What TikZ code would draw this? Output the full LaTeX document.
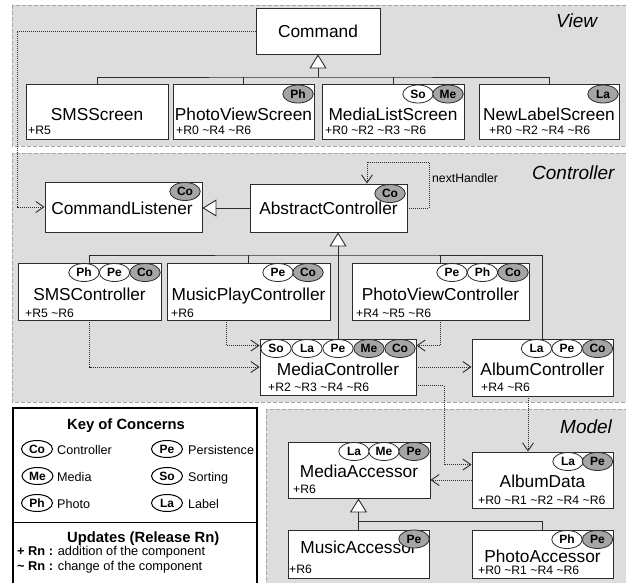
\documentclass[tikz,border=0pt]{standalone}
\usepackage{fontspec}
\setmainfont{Liberation Sans}
\usetikzlibrary{shapes.geometric,arrows.meta,calc}
\definecolor{panelfill}{HTML}{DDDDDD}
\definecolor{dashcol}{HTML}{A6A6A6}
\definecolor{congray}{HTML}{A5A5A5}
\definecolor{linecol}{HTML}{2B2B2B}
\begin{document}
\begin{tikzpicture}[x=1pt,y=-1pt,
  panel/.style={fill=panelfill, draw=dashcol, line width=0.8pt, dash pattern=on 4pt off 2pt},
  cls/.style={draw=linecol, fill=white, line width=0.9pt, rectangle, inner sep=0pt},
  ttl/.style={anchor=base, inner sep=0pt, font=\fontsize{17.3}{20}\selectfont},
  rel/.style={anchor=base west, inner sep=0pt, font=\fontsize{12.2}{14}\selectfont},
  cbase/.style={ellipse, draw=linecol, line width=0.8pt, minimum width=30.5pt, minimum height=18pt, inner sep=0pt, font=\bfseries\fontsize{12}{14}\selectfont},
  cw/.style={cbase, fill=white},
  cg/.style={cbase, fill=congray},
  ck/.style={ellipse, draw=black, line width=1pt, fill=white, minimum width=31pt, minimum height=17pt, inner sep=0pt, font=\bfseries\fontsize{12}{14}\selectfont},
  klabel/.style={anchor=base west, inner sep=0pt, font=\fontsize{12.6}{15}\selectfont},
  ulabel/.style={anchor=base west, inner sep=0pt, font=\fontsize{12.8}{15}\selectfont},
  ktitle/.style={anchor=base west, inner sep=0pt, font=\bfseries\fontsize{14.8}{17}\selectfont},
  area/.style={anchor=base west, inner sep=0pt, font=\itshape\fontsize{19}{22}\selectfont},
  inh/.style={draw=linecol, line width=0.9pt},
  inharrow/.style={inh, -{Triangle[length=14pt,width=17pt,fill=white]}},
  dep/.style={draw=linecol, line width=0.9pt, dash pattern=on 1pt off 1pt, -{Straight Barb[length=8pt,width=11pt]}}
]
\useasboundingbox (0,0) rectangle (626,583);

% panels
\draw[panel] (12,5) rectangle (640,146);
\draw[panel] (12,153) rectangle (640,402);
\draw[panel] (266,409) rectangle (640,600);
\draw[line width=2pt, fill=white] (13,408) rectangle (257,600);
\draw[line width=1pt] (13,522.5) -- (257,522.5);

% area labels
\node[area] (viewlbl) at (556,28) {View};
\node[area] (ctrllbl) at (532,179) {Controller};
\node[area] (modellbl) at (560,433) {Model};

% class boxes
\node[cls, minimum width=124pt, minimum height=46pt] (command) at (318,31) {};
\node[cls, minimum width=142pt, minimum height=55pt] (smsscreen) at (97,111.5) {};
\node[cls, minimum width=141pt, minimum height=55pt] (photoviewscreen) at (243.5,111.5) {};
\node[cls, minimum width=142pt, minimum height=55pt] (medialistscreen) at (393,111.5) {};
\node[cls, minimum width=140pt, minimum height=55pt] (newlabelscreen) at (549,111.5) {};

\node[cls, minimum width=157pt, minimum height=50pt] (commandlistener) at (123.5,207) {};
\node[cls, minimum width=157pt, minimum height=48pt] (abstractcontroller) at (328.5,208) {};
\node[cls, minimum width=143pt, minimum height=57pt] (smscontroller) at (89.5,291.5) {};
\node[cls, minimum width=163pt, minimum height=57pt] (musicplaycontroller) at (248.5,291.5) {};
\node[cls, minimum width=177pt, minimum height=57pt] (photoviewcontroller) at (440.5,291.5) {};
\node[cls, minimum width=156pt, minimum height=56pt] (mediacontroller) at (338,367) {};
\node[cls, minimum width=141pt, minimum height=57pt] (albumcontroller) at (542.5,367.5) {};

\node[cls, minimum width=142pt, minimum height=56pt] (mediaaccessor) at (359,470) {};
\node[cls, minimum width=141pt, minimum height=56pt] (albumdata) at (542.5,480) {};
\node[cls, minimum width=141pt, minimum height=48pt] (musicaccessor) at (358.5,554) {};
\node[cls, minimum width=141pt, minimum height=48pt] (photoaccessor) at (542.5,554) {};

% titles
\node[ttl] (command-t) at (318,38) {Command};
\node[ttl] (smsscreen-t) at (97,121) {SMSScreen};
\node[ttl] (photoviewscreen-t) at (243.5,121) {PhotoViewScreen};
\node[ttl] (medialistscreen-t) at (393,121) {MediaListScreen};
\node[ttl] (newlabelscreen-t) at (549,121) {NewLabelScreen};
\node[ttl] (commandlistener-t) at (122,214) {CommandListener};
\node[ttl] (abstractcontroller-t) at (328.5,214) {AbstractController};
\node[ttl] (smscontroller-t) at (89.5,300) {SMSController};
\node[ttl] (musicplaycontroller-t) at (248.5,300) {MusicPlayController};
\node[ttl] (photoviewcontroller-t) at (440.5,300) {PhotoViewController};
\node[ttl] (mediacontroller-t) at (338,375) {MediaController};
\node[ttl] (albumcontroller-t) at (542.5,375) {AlbumController};
\node[ttl] (mediaaccessor-t) at (359,477) {MediaAccessor};
\node[ttl] (albumdata-t) at (542.5,487) {AlbumData};
\node[ttl] (musicaccessor-t) at (358.5,553.5) {MusicAccessor};
\node[ttl] (photoaccessor-t) at (542.5,562) {PhotoAccessor};

% releases
\node[rel] (smsscreen-r) at (28,135) {+R5};
\node[rel] (photoviewscreen-r) at (176,135) {+R0 \textasciitilde R4 \textasciitilde R6};
\node[rel] (medialistscreen-r) at (325,135) {+R0 \textasciitilde R2 \textasciitilde R3 \textasciitilde R6};
\node[rel] (newlabelscreen-r) at (489,135) {+R0 \textasciitilde R2 \textasciitilde R4 \textasciitilde R6};
\node[rel] (smscontroller-r) at (25,317) {+R5 \textasciitilde R6};
\node[rel] (musicplaycontroller-r) at (171,317) {+R6};
\node[rel] (photoviewcontroller-r) at (356,317) {+R4 \textasciitilde R5 \textasciitilde R6};
\node[rel] (mediacontroller-r) at (268,391) {+R2 \textasciitilde R3 \textasciitilde R4 \textasciitilde R6};
\node[rel] (albumcontroller-r) at (481,391) {+R4 \textasciitilde R6};
\node[rel] (mediaaccessor-r) at (293,493) {+R6};
\node[rel] (albumdata-r) at (478,504) {+R0 \textasciitilde R1 \textasciitilde R2 \textasciitilde R4 \textasciitilde R6};
\node[rel] (musicaccessor-r) at (289,573) {+R6};
\node[rel] (photoaccessor-r) at (478,574) {+R0 \textasciitilde R1 \textasciitilde R4 \textasciitilde R6};

% concerns
\node[cg] (pvs-ph) at (298,94) {Ph};
\node[cw] (mls-so) at (418,94) {So};
\node[cg] (mls-me) at (448,94) {Me};
\node[cg] (nls-la) at (603,94) {La};

\node[cg] (cl-co) at (185,191.5) {Co};
\node[cg] (ac-co) at (390,193.5) {Co};
\node[cw] (sc-ph) at (84,272.5) {Ph};
\node[cw] (sc-pe) at (114.5,272.5) {Pe};
\node[cg] (sc-co) at (145,272.5) {Co};
\node[cw] (mp-pe) at (278,272.5) {Pe};
\node[cg] (mp-co) at (308,272.5) {Co};
\node[cw] (pv-pe) at (452,272.5) {Pe};
\node[cw] (pv-ph) at (482.5,272.5) {Ph};
\node[cg] (pv-co) at (513,272.5) {Co};
\node[cw] (mc-so) at (276,348.5) {So};
\node[cw] (mc-la) at (307,348.5) {La};
\node[cw] (mc-pe) at (338,348.5) {Pe};
\node[cg] (mc-me) at (369,348.5) {Me};
\node[cg] (mc-co) at (400,348.5) {Co};
\node[cw] (alc-la) at (536.5,348.5) {La};
\node[cw] (alc-pe) at (567,348.5) {Pe};
\node[cg] (alc-co) at (597.5,348.5) {Co};

\node[cw] (ma-la) at (354,451.5) {La};
\node[cw] (ma-me) at (384,451.5) {Me};
\node[cg] (ma-pe) at (414,451.5) {Pe};
\node[cw] (ad-la) at (568,461.5) {La};
\node[cg] (ad-pe) at (597.5,461.5) {Pe};
\node[cg] (mua-pe) at (414,539) {Pe};
\node[cw] (pa-ph) at (567,539.5) {Ph};
\node[cg] (pa-pe) at (597.5,539.5) {Pe};

% inheritance
\coordinate (vbus) at (318,77);
\draw[inharrow] (vbus) -- (command.south);
\draw[inh] (smsscreen.north) |- (vbus) -| (newlabelscreen.north);
\draw[inh] (photoviewscreen.north) -- (photoviewscreen.north |- vbus);
\draw[inh] (medialistscreen.north) -- (medialistscreen.north |- vbus);

\coordinate (cbus) at (338,255);
\draw[inharrow] (mediacontroller.north) -- (mediacontroller.north |- abstractcontroller.south);
\draw[inh] (smscontroller.north) |- (cbus) -| (albumcontroller.north);
\draw[inh] (musicplaycontroller.north) -- (musicplaycontroller.north |- cbus);
\draw[inh] (photoviewcontroller.north) -- (photoviewcontroller.north |- cbus);
\draw[inharrow] (abstractcontroller.west) -- (abstractcontroller.west -| commandlistener.east);

\coordinate (mbus) at (359,521);
\draw[inharrow] (musicaccessor.north) -- (musicaccessor.north |- mediaaccessor.south);
\draw[inh] (mbus -| musicaccessor.north) -| (photoaccessor.north);

% dependencies
\coordinate (leftrail) at (17,100);
\draw[dep] (command.west) -| (leftrail) |- (commandlistener.west);
\coordinate (nhr) at (429,162);
\coordinate (nhl) at (367,162);
\draw[dep] (abstractcontroller.east) -| (nhr) -- (nhl) -- (nhl |- abstractcontroller.north);
\node[rel] (nexthandler) at (432,182) {nextHandler};

\draw[dep] (smscontroller.south) |- (mediacontroller.west);
\draw[dep] ($(musicplaycontroller.south west)+(60,0)$) |- ($(mediacontroller.north west)+(0,7)$);
\draw[dep] (photoviewcontroller.south) |- ($(mediacontroller.north east)+(0,7)$);
\draw[dep] (mediacontroller.east) -- (mediacontroller.east -| albumcontroller.west);
\coordinate (mdbend) at (444,420);
\draw[dep] ($(mediacontroller.south east)+(0,-10)$) -| (mdbend) |- ($(albumdata.north west)+(0,13)$);
\draw[dep] ($(albumcontroller.south)+(-14.5,0)$) -- ($(albumdata.north)+(-14.5,0)$);
\draw[dep] (albumdata.west) -- (albumdata.west -| mediaaccessor.east);

% key
\node[ktitle] (keytitle) at (67,429) {Key of Concerns};
\node[ck] (k-co) at (37,449) {Co};
\node[klabel] (k-co-l) at (57,454) {Controller};
\node[ck] (k-me) at (37.5,476) {Me};
\node[klabel] (k-me-l) at (57,481) {Media};
\node[ck] (k-ph) at (37,503) {Ph};
\node[klabel] (k-ph-l) at (57,508) {Photo};
\node[ck] (k-pe) at (167,449) {Pe};
\node[klabel] (k-pe-l) at (188,454) {Persistence};
\node[ck] (k-so) at (167,476) {So};
\node[klabel] (k-so-l) at (188,481) {Sorting};
\node[ck] (k-la) at (167,503) {La};
\node[klabel] (k-la-l) at (188,508) {Label};
\node[ktitle] (updtitle) at (67,542) {Updates (Release Rn)};
\node[ulabel] (upd1) at (17,555) {\textbf{+ Rn :} addition of the component};
\node[ulabel] (upd2) at (17,570) {\textbf{\textasciitilde{} Rn :} change of the component};
\end{tikzpicture}
\end{document}
